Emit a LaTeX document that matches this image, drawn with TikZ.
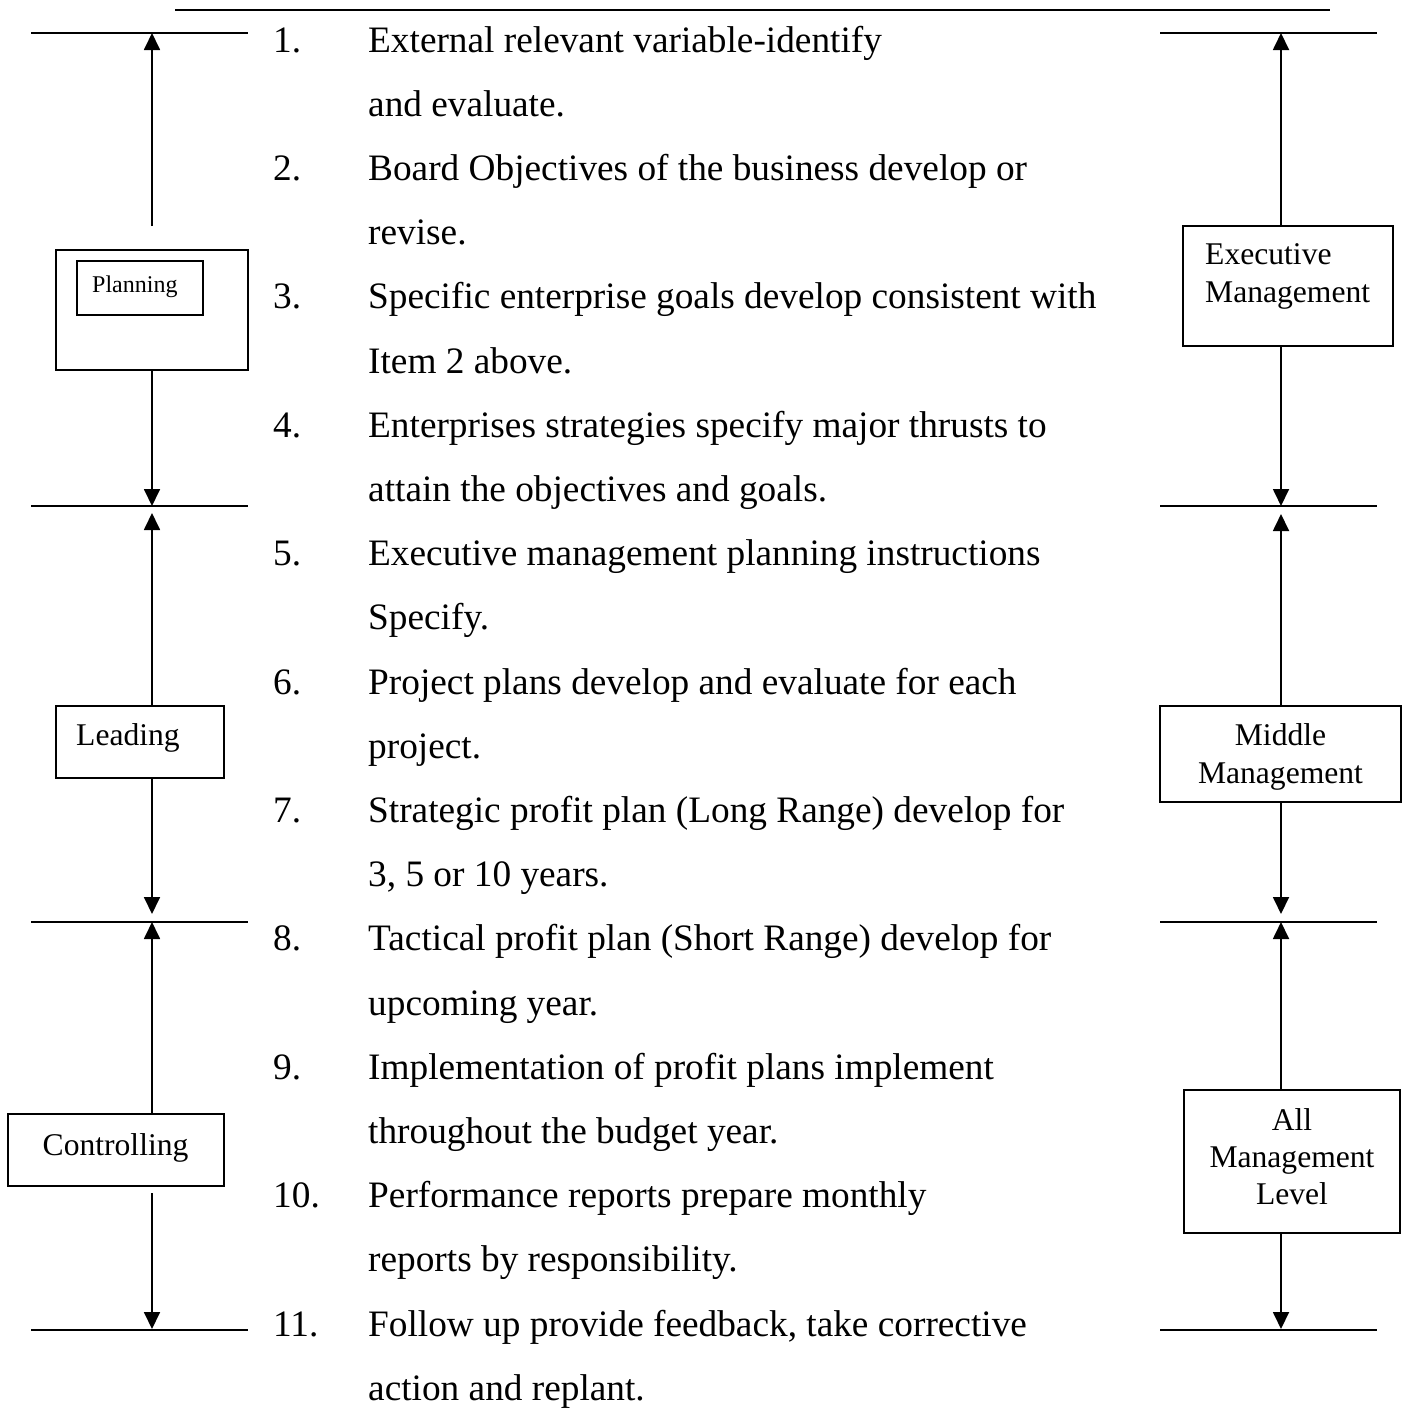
\documentclass[tikz,border=0pt]{standalone}
\usepackage{fontspec}
\setmainfont{Liberation Serif}
\usetikzlibrary{arrows.meta}
\begin{document}
\begin{tikzpicture}[x=1pt,y=-1pt,
  box/.style={draw, rectangle, inner sep=0pt, line width=1.8pt},
  rule/.style={line width=1.8pt},
  arr/.style={-{Triangle[width=16pt,length=17pt]}, line width=1.8pt},
  listline/.style={anchor=base west, inner sep=0pt, font=\fontsize{37.3}{40}\selectfont},
  lbl/.style={anchor=base west, inner sep=0pt, font=\fontsize{31.6}{36}\selectfont},
  lblc/.style={anchor=base, inner sep=0pt, font=\fontsize{31.6}{36}\selectfont},
  small/.style={anchor=base west, inner sep=0pt, font=\fontsize{24}{28}\selectfont}]
\useasboundingbox (0,0) rectangle (1408,1416);

% top rule
\coordinate (topA) at (175,10);
\coordinate (topB) at (1330,10);
\draw[rule] (topA) -- (topB);

% horizontal rules, left and right
\foreach \i/\yy in {1/33,2/506,3/922,4/1330}{
  \coordinate (la\i) at (31,\yy);
  \coordinate (lb\i) at (248,\yy);
  \coordinate (ra\i) at (1160,\yy);
  \coordinate (rb\i) at (1377,\yy);
  \draw[rule] (la\i) -- (lb\i);
  \draw[rule] (ra\i) -- (rb\i);
}

% ---------- left boxes ----------
\node[box, minimum width=192pt, minimum height=120pt] (planOuter) at (152,310) {};
\node[box, minimum width=126pt, minimum height=54pt] (planInner) at (140,288) {};
\node[small] (planTxt) at (92,292) {Planning};

\node[box, minimum width=168pt, minimum height=72pt] (lead) at (140,742) {};
\node[lbl] (leadTxt) at (76,745) {Leading};

\node[box, minimum width=216pt, minimum height=72pt] (ctrl) at (116,1150) {};
\node[lbl] (ctrlTxt) at (42.5,1155) {Controlling};

% left arrows
\coordinate (pUs) at (152,226);
\coordinate (pUt) at (152,33);
\coordinate (pDs) at (152,370);
\coordinate (pDt) at (152,506);
\draw[arr] (pUs) -- (pUt);
\draw[arr] (pDs) -- (pDt);

\coordinate (lUs) at (152,706);
\coordinate (lUt) at (152,513);
\coordinate (lDs) at (152,778);
\coordinate (lDt) at (152,914);
\draw[arr] (lUs) -- (lUt);
\draw[arr] (lDs) -- (lDt);

\coordinate (cUs) at (152,1114);
\coordinate (cUt) at (152,922);
\coordinate (cDs) at (152,1193);
\coordinate (cDt) at (152,1329);
\draw[arr] (cUs) -- (cUt);
\draw[arr] (cDs) -- (cDt);

% ---------- right boxes ----------
\node[box, minimum width=210pt, minimum height=120pt] (exec) at (1288,286) {};
\node[lbl] (execT1) at (1205,264) {Executive};
\node[lbl] (execT2) at (1205,302) {Management};

\node[box, minimum width=241pt, minimum height=96pt] (mid) at (1280.5,754) {};
\node[lblc] (midT1) at (1280.5,745) {Middle};
\node[lblc] (midT2) at (1280.5,783) {Management};

\node[box, minimum width=216pt, minimum height=143pt] (allm) at (1292,1161.5) {};
\node[lblc] (allT1) at (1292,1130) {All};
\node[lblc] (allT2) at (1292,1167) {Management};
\node[lblc] (allT3) at (1292,1204) {Level};

% right arrows
\coordinate (eUs) at (1281,226);
\coordinate (eUt) at (1281,33);
\coordinate (eDs) at (1281,346);
\coordinate (eDt) at (1281,506);
\draw[arr] (eUs) -- (eUt);
\draw[arr] (eDs) -- (eDt);

\coordinate (mUs) at (1281,706);
\coordinate (mUt) at (1281,514);
\coordinate (mDs) at (1281,802);
\coordinate (mDt) at (1281,914);
\draw[arr] (mUs) -- (mUt);
\draw[arr] (mDs) -- (mDt);

\coordinate (aUs) at (1281,1090);
\coordinate (aUt) at (1281,922);
\coordinate (aDs) at (1281,1233);
\coordinate (aDt) at (1281,1329);
\draw[arr] (aUs) -- (aUt);
\draw[arr] (aDs) -- (aDt);

% ---------- numbered list ----------
\node[listline] (n1)  at (273,{52+64.2*0})  {1.};
\node[listline] (n2)  at (273,{52+64.2*2})  {2.};
\node[listline] (n3)  at (273,{52+64.2*4})  {3.};
\node[listline] (n4)  at (273,{52+64.2*6})  {4.};
\node[listline] (n5)  at (273,{52+64.2*8})  {5.};
\node[listline] (n6)  at (273,{52+64.2*10}) {6.};
\node[listline] (n7)  at (273,{52+64.2*12}) {7.};
\node[listline] (n8)  at (273,{52+64.2*14}) {8.};
\node[listline] (n9)  at (273,{52+64.2*16}) {9.};
\node[listline] (n10) at (273,{52+64.2*18}) {10.};
\node[listline] (n11) at (273,{52+64.2*20}) {11.};

\node[listline] (t0)  at (368,{52+64.2*0})  {External relevant variable-identify};
\node[listline] (t1)  at (368,{52+64.2*1})  {and evaluate.};
\node[listline] (t2)  at (368,{52+64.2*2})  {Board Objectives of the business develop or};
\node[listline] (t3)  at (368,{52+64.2*3})  {revise.};
\node[listline] (t4)  at (368,{52+64.2*4})  {Specific enterprise goals develop consistent with};
\node[listline] (t5)  at (368,{52+64.2*5})  {Item 2 above.};
\node[listline] (t6)  at (368,{52+64.2*6})  {Enterprises strategies specify major thrusts to};
\node[listline] (t7)  at (368,{52+64.2*7})  {attain the objectives and goals.};
\node[listline] (t8)  at (368,{52+64.2*8})  {Executive management planning instructions};
\node[listline] (t9)  at (368,{52+64.2*9})  {Specify.};
\node[listline] (t10) at (368,{52+64.2*10}) {Project plans develop and evaluate for each};
\node[listline] (t11) at (368,{52+64.2*11}) {project.};
\node[listline] (t12) at (368,{52+64.2*12}) {Strategic profit plan (Long Range) develop for};
\node[listline] (t13) at (368,{52+64.2*13}) {3, 5 or 10 years.};
\node[listline] (t14) at (368,{52+64.2*14}) {Tactical profit plan (Short Range) develop for};
\node[listline] (t15) at (368,{52+64.2*15}) {upcoming year.};
\node[listline] (t16) at (368,{52+64.2*16}) {Implementation of profit plans implement};
\node[listline] (t17) at (368,{52+64.2*17}) {throughout the budget year.};
\node[listline] (t18) at (368,{52+64.2*18}) {Performance reports prepare monthly};
\node[listline] (t19) at (368,{52+64.2*19}) {reports by responsibility.};
\node[listline] (t20) at (368,{52+64.2*20}) {Follow up provide feedback, take corrective};
\node[listline] (t21) at (368,{52+64.2*21}) {action and replant.};
\end{tikzpicture}
\end{document}
